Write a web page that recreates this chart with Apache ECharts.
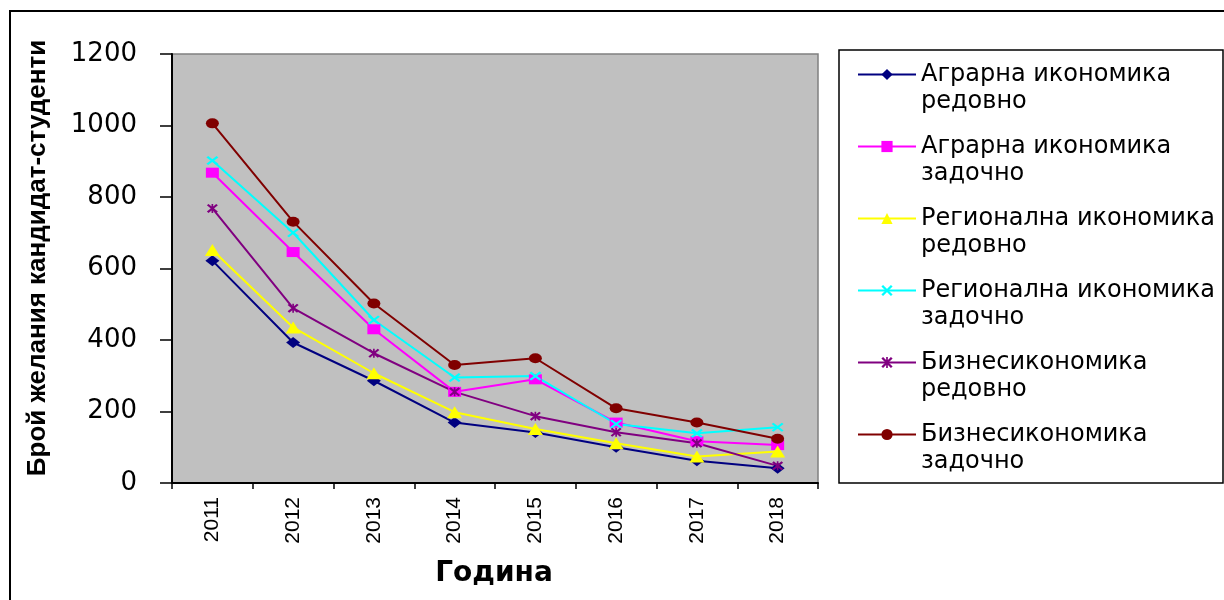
<!DOCTYPE html>
<html>
<head>
<meta charset="utf-8">
<script src="https://cdn.jsdelivr.net/npm/echarts@6/dist/echarts.min.js"></script>
<style>
html,body{margin:0;padding:0;background:#fff;}
#chart{width:1224px;height:600px;}
</style>
</head>
<body>
<div id="chart"></div>
<script>
// ---- data ----
var years = ['2011', '2012', '2013', '2014', '2015', '2016', '2017', '2018'];
var seriesNames = [
  'Аграрна икономика редовно',
  'Аграрна икономика задочно',
  'Регионална икономика редовно',
  'Регионална икономика задочно',
  'Бизнесикономика редовно',
  'Бизнесикономика задочно'
];
var agrRedovno = [622, 393, 286, 169, 141, 100, 62, 41];
var agrZadochno = [868, 646, 430, 255, 290, 169, 117, 106];
var regRedovno = [652, 435, 307, 198, 151, 111, 74, 88];
var regZadochno = [902, 700, 456, 295, 299, 165, 139, 156];
var bizRedovno = [768, 489, 363, 255, 187, 142, 111, 48];
var bizZadochno = [1006, 731, 502, 330, 349, 209, 169, 124];
var yTicks = { min: 0, max: 1200, interval: 200 };
var yTitle = 'Брой желания кандидат-студенти';
var xTitle = 'Година';

// ---- styles ----
var colors = ['#000080', '#FF00FF', '#FFFF00', '#00FFFF', '#800080', '#800000'];
var crossPath = 'path://M0,1.5 L1.5,0 L10,8.5 L8.5,10 Z M8.5,0 L10,1.5 L1.5,10 L0,8.5 Z';
var starPath = 'path://M0,1.5 L1.5,0 L10,8.5 L8.5,10 Z M8.5,0 L10,1.5 L1.5,10 L0,8.5 Z M4.25,0 L5.75,0 L5.75,10 L4.25,10 Z';
var symbols = ['diamond', 'rect', 'triangle', crossPath, starPath, 'circle'];
var symbolSizes = [[14, 11], [13, 10], [15, 12], [12, 9], [11, 9], [13, 10]];
var allData = [agrRedovno, agrZadochno, regRedovno, regZadochno, bizRedovno, bizZadochno];

var series = seriesNames.map(function (n, i) {
  return {
    name: n,
    type: 'line',
    data: allData[i],
    symbol: symbols[i],
    symbolSize: symbolSizes[i],
    showAllSymbol: true,
    lineStyle: { color: colors[i], width: 2 },
    itemStyle: { color: colors[i] },
    emphasis: { disabled: true },
    animation: false
  };
});

var chart = echarts.init(document.getElementById('chart'));
chart.setOption({
  backgroundColor: '#ffffff',
  animation: false,
  grid: {
    left: 172, right: 406, top: 54, bottom: 117,
    show: true, backgroundColor: '#C0C0C0', borderColor: '#808080', borderWidth: 1.5
  },
  xAxis: {
    type: 'category',
    data: years,
    boundaryGap: true,
    axisLine: { lineStyle: { color: '#000', width: 2 } },
    axisTick: { show: true, inside: false, length: 6, alignWithLabel: false, lineStyle: { color: '#000', width: 1.5 } },
    axisLabel: { rotate: 90, margin: 14, color: '#000', fontFamily: 'Liberation Sans, Arial, sans-serif', fontSize: 21 }
  },
  yAxis: {
    type: 'value',
    min: yTicks.min, max: yTicks.max, interval: yTicks.interval,
    splitLine: { show: false },
    axisLine: { show: true, lineStyle: { color: '#000', width: 2 } },
    axisTick: { show: true, length: 12, lineStyle: { color: '#000', width: 1.5 } },
    axisLabel: { margin: 35, color: '#000', fontFamily: 'DejaVu Sans, sans-serif', fontSize: 26,
      formatter: function (v) { return String(v); } }
  },
  legend: {
    orient: 'vertical',
    left: 857,
    top: 34,
    padding: 0,
    itemWidth: 58,
    itemHeight: 14,
    itemGap: -9,
    selectedMode: false,
    data: seriesNames,
    formatter: function (name) {
      var k = name.lastIndexOf(' ');
      return '\u00a0\n' + name.slice(0, k) + '\n' + name.slice(k + 1);
    },
    textStyle: { color: '#000', fontFamily: 'DejaVu Sans, sans-serif', fontSize: 24, lineHeight: 27 }
  },
  graphic: [
    { type: 'rect', silent: true, shape: { x: 10, y: 11, width: 1400, height: 800 },
      style: { fill: 'none', stroke: '#000', lineWidth: 2 } },
    { type: 'rect', silent: true, shape: { x: 839, y: 50, width: 384, height: 433 },
      style: { fill: 'none', stroke: '#000', lineWidth: 1.5 } },
    { type: 'text', silent: true, x: 38, y: 258, rotation: Math.PI / 2,
      style: { text: yTitle, fill: '#000', align: 'center', verticalAlign: 'middle',
        font: 'bold 26px "Liberation Sans", Arial, sans-serif' } },
    { type: 'text', silent: true, x: 494, y: 574,
      style: { text: xTitle, fill: '#000', align: 'center', verticalAlign: 'middle',
        font: 'bold 28px "DejaVu Sans", sans-serif' } }
  ],
  series: series
});
</script>
</body>
</html>
